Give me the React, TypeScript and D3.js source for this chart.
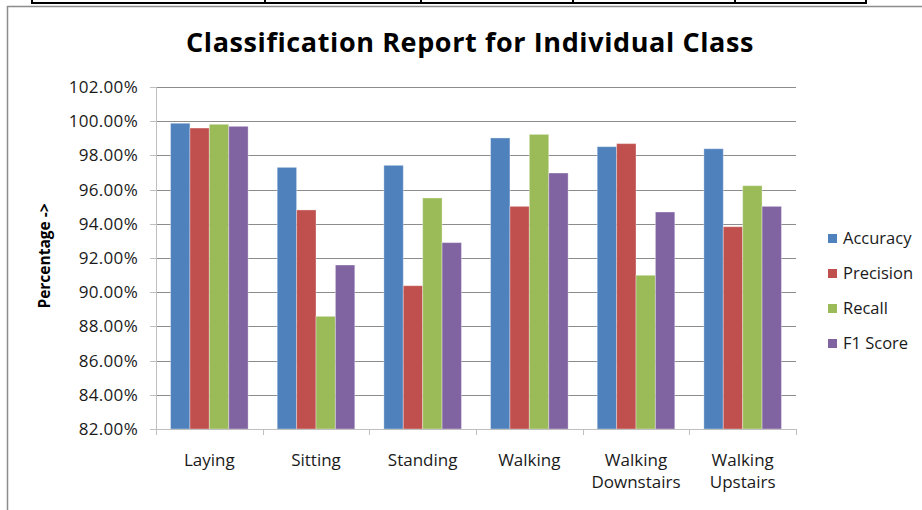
import React from "react";
import * as d3 from "d3";

const categories = [
  ["Laying"],
  ["Sitting"],
  ["Standing"],
  ["Walking"],
  ["Walking", "Downstairs"],
  ["Walking", "Upstairs"],
];
const seriesNames = ["Accuracy", "Precision", "Recall", "F1 Score"];
const seriesColors = ["#4F81BD", "#C0504D", "#9BBB59", "#8064A2"];

// percentages per class, in series order
const accuracy = [99.88, 97.3, 97.42, 99.02, 98.51, 98.39];
const precision = [99.6, 94.81, 90.38, 95.02, 98.69, 93.83];
const recall = [99.82, 88.59, 95.51, 99.23, 90.99, 96.23];
const f1Score = [99.7, 91.59, 92.9, 96.97, 94.69, 95.02];
const seriesValues = [accuracy, precision, recall, f1Score];

const yTicks = [82, 84, 86, 88, 90, 92, 94, 96, 98, 100, 102];

const FONT = "'Open Sans', sans-serif";
const W = 922;
const H = 510;

export default function App() {
  const plot = { left: 156, right: 796, top: 87, bottom: 429 };

  const x = d3
    .scaleBand<number>()
    .domain(d3.range(categories.length))
    .range([plot.left, plot.right])
    .paddingInner(0)
    .paddingOuter(0);

  const xInner = d3
    .scaleBand<string>()
    .domain(seriesNames)
    .range([0, x.bandwidth()])
    .paddingInner(0)
    .paddingOuter(0.75);

  const y = d3.scaleLinear().domain([82, 102]).range([plot.bottom, plot.top]);

  const bw = x.bandwidth();

  return (
    <svg
      width={W}
      height={H}
      style={{ position: "absolute", left: 0, top: 0, background: "#fff" }}
      fontFamily={FONT}
    >
      {/* table border above the chart */}
      <g stroke="#000" strokeWidth={2}>
        <line x1={32} x2={866} y1={3} y2={3} />
        {[32, 265, 421, 573, 735, 866].map((d) => (
          <line key={d} x1={d} x2={d} y1={0} y2={4} />
        ))}
      </g>
      {/* chart frame */}
      <path d={`M7.5,${H} V6.5 H${W}`} fill="none" stroke="#8c8c8c" strokeWidth={1.5} />

      <text
        x={470}
        y={52}
        textAnchor="middle"
        fontSize={27}
        letterSpacing={0.6}
        fontWeight="bold"
        fill="#000"
      >
        Classification Report for Individual Class
      </text>

      {/* gridlines */}
      {yTicks.map((t) => (
        <line
          key={t}
          x1={plot.left}
          x2={plot.right}
          y1={Math.round(y(t)) + 0.5}
          y2={Math.round(y(t)) + 0.5}
          stroke="#8c8c8c"
          strokeWidth={1}
        />
      ))}

      {/* bars */}
      {seriesValues.map((vals, si) => (
        <g key={si} fill={seriesColors[si]}>
          {vals.map((v, ci) => (
            <rect
              key={ci}
              x={(x(ci) as number) + (xInner(seriesNames[si]) as number)}
              y={y(v)}
              width={xInner.bandwidth()}
              height={y(82) - y(v)}
              stroke="rgba(255,255,255,0.35)"
              strokeWidth={1}
            />
          ))}
        </g>
      ))}

      {/* y axis */}
      <line
        x1={plot.left + 0.5}
        x2={plot.left + 0.5}
        y1={plot.top}
        y2={plot.bottom}
        stroke="#bfbfbf"
      />
      {yTicks.map((t) => (
        <g key={t}>
          <line
            x1={plot.left - 6}
            x2={plot.left}
            y1={Math.round(y(t)) + 0.5}
            y2={Math.round(y(t)) + 0.5}
            stroke="#bfbfbf"
          />
          <text
            x={138}
            y={y(t) + 6}
            textAnchor="end"
            fontSize={17}
            letterSpacing={0.3}
            fill="#1a1a1a"
          >
            {t.toFixed(2)}%
          </text>
        </g>
      ))}

      {/* x axis */}
      <line
        x1={plot.left}
        x2={plot.right}
        y1={plot.bottom + 0.5}
        y2={plot.bottom + 0.5}
        stroke="#bfbfbf"
      />
      {d3.range(categories.length + 1).map((i) => {
        const xx = Math.round(plot.left + i * bw) + 0.5;
        return (
          <line key={i} x1={xx} x2={xx} y1={plot.bottom} y2={plot.bottom + 6} stroke="#bfbfbf" />
        );
      })}
      {categories.map((lines, ci) => (
        <text
          key={ci}
          x={(x(ci) as number) + bw / 2}
          y={466}
          textAnchor="middle"
          fontSize={17}
          fill="#1a1a1a"
        >
          {lines.map((l, li) => (
            <tspan key={li} x={(x(ci) as number) + bw / 2} dy={li === 0 ? 0 : 22}>
              {l}
            </tspan>
          ))}
        </text>
      ))}

      <text
        transform={`translate(50,256) rotate(-90)`}
        textAnchor="middle"
        fontSize={15.5}
        fontWeight="bold"
        fill="#000"
      >
        Percentage -&gt;
      </text>

      {/* legend */}
      {seriesNames.map((name, i) => (
        <g key={name} transform={`translate(828,${238 + i * 35})`}>
          <rect x={0} y={-4} width={9} height={9} fill={seriesColors[i]} />
          <text x={15} y={6} fontSize={16.5} fill="#1a1a1a">
            {name}
          </text>
        </g>
      ))}
    </svg>
  );
}
